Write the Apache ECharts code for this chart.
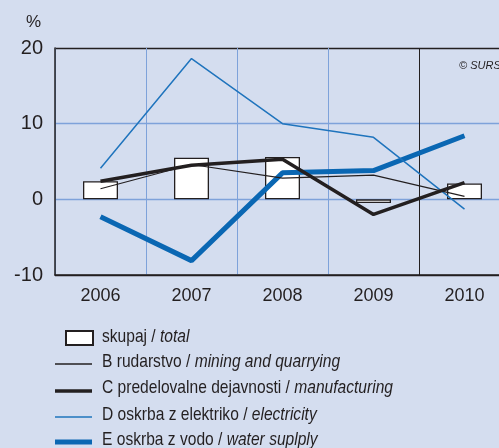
<!DOCTYPE html>
<html>
<head>
<meta charset="utf-8">
<script src="https://cdn.jsdelivr.net/npm/echarts@6/dist/echarts.min.js"></script>
<style>
  html, body { margin: 0; padding: 0; background: #d4ddef; }
  #main { width: 499px; height: 448px; }
</style>
</head>
<body>
<div id="main"></div>
<script>
// years on the x axis
var years = ['2006', '2007', '2008', '2009', '2010'];
// skupaj / total (bars)
var total = [2.4, 5.5, 5.6, -0.5, 2.1];
// B rudarstvo / mining and quarrying
var mining = [1.4, 4.6, 2.8, 3.2, 0.4];
// C predelovalne dejavnosti / manufacturing
var manufacturing = [2.4, 4.5, 5.3, -2.0, 2.2];
// D oskrba z elektriko / electricity
var electricity = [4.1, 18.6, 10.0, 8.2, -1.3];
// E oskrba z vodo / water suplply
var water = [-2.3, -8.1, 3.5, 3.8, 8.4];

// legend labels: plain part + italic part
var seriesKeys = ['skupaj', 'B', 'C', 'D', 'E'];
var labelPlain = ['skupaj / ', 'B rudarstvo / ', 'C predelovalne dejavnosti / ', 'D oskrba z elektriko / ', 'E oskrba z vodo / '];
var labelItalic = ['total', 'mining and quarrying', 'manufacturing', 'electricity', 'water suplply'];

var dark = '#231f20';
var gridBlue = '#7ea2da';
var font = 'Liberation Sans';

var myChart = echarts.init(document.getElementById('main'));

// legend rows (icon centre y, text centre y)
var rowIcon = [337, 364, 391, 417, 442];
var rowText = [337, 361.5, 388, 415, 440];
var iconH = [14, 1.3, 3.5, 1.6, 5];

var legends = [];
var texts = [];
for (var i = 0; i < seriesKeys.length; i++) {
    legends.push({
        data: [seriesKeys[i]],
        left: i === 0 ? 65 : 55,
        top: rowIcon[i] - iconH[i] / 2,
        padding: 0,
        icon: 'rect',
        itemWidth: i === 0 ? 27 : 37,
        itemHeight: iconH[i],
        formatter: function () { return ''; },
        selectedMode: false
    });
    texts.push({
        type: 'text',
        x: 102, y: rowText[i],
        scaleX: 0.82,
        style: {
            text: '{a|' + labelPlain[i] + '}{b|' + labelItalic[i] + '}',
            verticalAlign: 'middle',
            rich: {
                a: { fontFamily: font, fontSize: 19, fill: dark },
                b: { fontFamily: font, fontSize: 19, fill: dark, fontStyle: 'italic' }
            }
        }
    });
}

var option = {
    backgroundColor: '#d4ddef',
    animation: false,
    grid: { left: 55, top: 48, width: 455, height: 227, outerBoundsMode: 'none', containLabel: false },
    graphic: [
        { type: 'text', left: 26, top: 14, style: { text: '%', fontFamily: font, fontSize: 17, fill: dark } },
        { type: 'text', left: 459, top: 60, style: { text: '© SURS', fontFamily: font, fontStyle: 'italic', fontSize: 11, fill: dark } }
    ].concat(texts),
    legend: legends,
    xAxis: {
        type: 'category',
        data: years,
        boundaryGap: true,
        axisLine: { onZero: false, lineStyle: { color: dark, width: 1.5 } },
        axisTick: { show: false },
        axisLabel: { fontFamily: font, fontSize: 18, color: dark, margin: 12 },
        splitLine: {
            show: true,
            lineStyle: { color: [gridBlue, gridBlue, gridBlue, gridBlue, dark, gridBlue], width: 1 }
        }
    },
    yAxis: {
        type: 'value',
        min: -10, max: 20, interval: 10,
        axisLine: { show: true, lineStyle: { color: dark, width: 1.5 } },
        axisTick: { show: false },
        axisLabel: { fontFamily: font, fontSize: 20, color: dark, margin: 12 },
        splitLine: {
            show: true,
            lineStyle: { color: [dark, gridBlue, gridBlue, dark], width: 1.3 }
        }
    },
    series: [
        {
            name: 'skupaj', type: 'bar', data: total, barWidth: 35,
            itemStyle: { color: '#ffffff', borderColor: dark, borderWidth: 1.3 },
            z: 1
        },
        {
            name: 'E', type: 'line', data: water, symbol: 'none',
            lineStyle: { color: '#0a67b3', width: 5 }, itemStyle: { color: '#0a67b3' }, z: 2
        },
        {
            name: 'D', type: 'line', data: electricity, symbol: 'none',
            lineStyle: { color: '#1f74bd', width: 1.5 }, itemStyle: { color: '#1f74bd' }, z: 3
        },
        {
            name: 'C', type: 'line', data: manufacturing, symbol: 'none',
            lineStyle: { color: dark, width: 3.5 }, itemStyle: { color: dark }, z: 4
        },
        {
            name: 'B', type: 'line', data: mining, symbol: 'none',
            lineStyle: { color: dark, width: 1.2 }, itemStyle: { color: dark }, z: 5
        }
    ]
};
myChart.setOption(option);
</script>
</body>
</html>
